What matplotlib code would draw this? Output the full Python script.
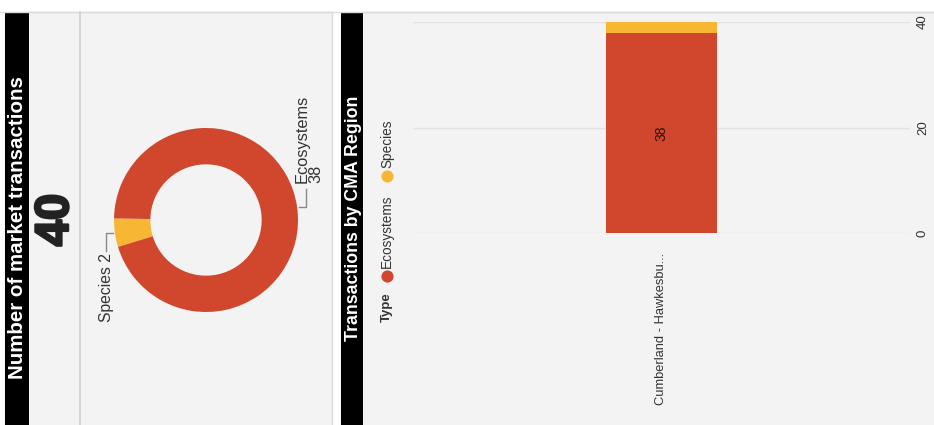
import numpy as np
import matplotlib.pyplot as plt
import matplotlib.patheffects as pe
from matplotlib.patches import Rectangle

plt.rcParams['font.family'] = ['Liberation Sans', 'DejaVu Sans']

# transaction counts by type
types = ['Ecosystems', 'Species']
type_counts = [38, 2]
total_transactions = sum(type_counts)

# transactions by CMA region, stacked by type
regions = ['Cumberland - Hawkesbu...']
eco_by_region = [38]
species_by_region = [2]
value_ticks = [0, 20, 40]

red = '#d0472d'
yellow = '#f7b733'
panel_bg = '#f3f3f3'

W, H = 934, 425
fig = plt.figure(figsize=(W / 100, H / 100), dpi=100)
fig.patch.set_facecolor('white')

# background layer in pixel units for the dashboard tiles
bg = fig.add_axes([0, 0, 1, 1])
bg.set_xlim(0, W)
bg.set_ylim(H, 0)
bg.axis('off')
bg.add_patch(Rectangle((5, 12), 327, 420, facecolor=panel_bg, edgecolor='#d8d8d8', lw=1))
bg.add_patch(Rectangle((341, 12), 600, 420, facecolor=panel_bg, edgecolor='#d8d8d8', lw=1))
bg.plot([0, W], [12, 12], color='#dcdcdc', lw=1)
bg.plot([80, 80], [12, H], color='#d0d0d0', lw=1.2)
bg.add_patch(Rectangle((5, 12), 24, 420, facecolor='black', edgecolor='none'))
bg.add_patch(Rectangle((341, 12), 22, 420, facecolor='black', edgecolor='none'))
bg.text(17.5, 228, 'Number of market transactions', rotation=90, color='white',
        fontsize=14.8, fontweight='bold', ha='center', va='center')
bg.text(353, 218, 'Transactions by CMA Region', rotation=90, color='white',
        fontsize=12.8, fontweight='bold', ha='center', va='center')
bg.text(56, 220, str(total_transactions), rotation=90, color='#222222',
        fontsize=34, fontweight='bold', ha='center', va='center',
        path_effects=[pe.withStroke(linewidth=1.8, foreground='#222222')])

# legend for the bar chart
bg.text(387, 322, 'Type', rotation=90, fontsize=9.5, fontweight='bold',
        color='#333333', ha='center', va='bottom')
bg.scatter([387], [276], s=60, color=red)
bg.text(387, 268, types[0], rotation=90, fontsize=9.8, color='#333333',
        ha='center', va='bottom')
bg.scatter([387], [176], s=60, color=yellow)
bg.text(387, 168, types[1], rotation=90, fontsize=9.8, color='#333333',
        ha='center', va='bottom')

# donut
cx, cy, r_px = 206, 220, 91
half = 115
dax = fig.add_axes([(cx - half) / W, 1 - (cy + half) / H, 2 * half / W, 2 * half / H])
dax.set_xlim(-half / r_px, half / r_px)
dax.set_ylim(-half / r_px, half / r_px)
dax.axis('off')
wedges, _ = dax.pie(type_counts[::-1], colors=[yellow, red], startangle=179,
                    counterclock=True, radius=1.0,
                    wedgeprops=dict(width=0.395, edgecolor='none'))

line_kw = dict(color='#888888', lw=1)
for w, name, cnt in zip(wedges, types[::-1], type_counts[::-1]):
    mid = np.deg2rad((w.theta1 + w.theta2) / 2)
    x0, y0 = 1.02 * np.cos(mid), 1.02 * np.sin(mid)
    side = np.sign(np.cos(mid))
    x1 = x0 + side * 0.08
    y1 = y0 + side * 0.2
    dax.plot([x0, x1, x1], [y0, y0, y1], **line_kw)
    if name == 'Species':
        dax.text(x1 + 0.01, y1 - 0.02, f'{name} {cnt}', rotation=90, fontsize=11.3,
                 color='#333333', ha='center', va='top')
    else:
        dax.text(x1 + 0.03, y1 + 0.06, f'{name}\n{cnt}', rotation=90, fontsize=11.8,
                 color='#333333', ha='center', va='bottom', multialignment='left',
                 linespacing=0.85)

# stacked bar chart
bax = fig.add_axes([413 / W, 1 - 233 / H, (910 - 413) / W, (233 - 22) / H])
bax.set_facecolor('none')
x = np.arange(len(regions))
bax.bar(x, eco_by_region, width=0.223, color=red)
bax.bar(x, species_by_region, bottom=eco_by_region, width=0.223, color=yellow)
for xi, v in zip(x, eco_by_region):
    bax.text(xi, v / 2, str(v), rotation=90, fontsize=10, color='#2a1208',
             ha='center', va='center')
bax.set_xlim(-0.5, 0.5)
bax.set_ylim(0, 40)
bax.set_yticks(value_ticks)
bax.yaxis.tick_right()
bax.set_yticklabels([str(t) for t in value_ticks], rotation=90, fontsize=9.5,
                    color='#333333', va='center')
bax.set_xticks(x)
bax.set_xticklabels(regions, rotation=90, fontsize=9.3, color='#333333')
bax.tick_params(length=0)
bax.tick_params(axis='y', pad=5)
bax.tick_params(axis='x', pad=14)
bax.grid(axis='y', color='#e2e2e2', lw=1)
bax.set_axisbelow(True)
for s in bax.spines.values():
    s.set_visible(False)

fig.savefig('out.png', dpi=100, facecolor='white')
